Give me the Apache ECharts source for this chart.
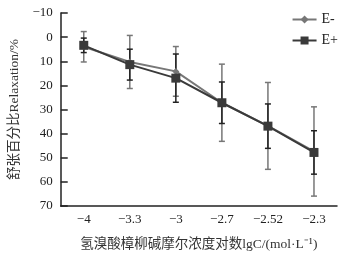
<!DOCTYPE html>
<html lang="zh">
<head>
<meta charset="UTF-8">
<title>Relaxation</title>
<script src="https://cdn.jsdelivr.net/npm/echarts@6/dist/echarts.min.js"></script>
<style>
  html, body { margin: 0; padding: 0; background: #fff; }
  #main { width: 349px; height: 258px; }
</style>
</head>
<body>
<div id="main"></div>
<script type="text/javascript">
// concentration categories (lgC)
var categories = ['\u22124', '\u22123.3', '\u22123', '\u22122.7', '\u22122.52', '\u22122.3'];
// relaxation %, mean and error
var eMinus = [4.0, 10.3, 14.2, 27.2, 36.8, 47.4];
var eMinusErr = [6.3, 11.0, 10.3, 16.0, 18.0, 18.5];
var ePlus = [3.4, 11.4, 17.0, 27.2, 36.9, 47.8];
var ePlusErr = [3.0, 6.4, 10.0, 8.6, 9.2, 9.0];

var font = "'Liberation Serif', 'Noto Sans CJK SC', serif";

function errData(vals, errs) {
  var out = [];
  for (var i = 0; i < vals.length; i++) {
    out.push([i, vals[i] - errs[i], vals[i] + errs[i]]);
  }
  return out;
}

function errRender(color) {
  return function (params, api) {
    var x = api.value(0);
    var top = api.coord([x, api.value(1)]);
    var bot = api.coord([x, api.value(2)]);
    var w = 3;
    var st = { stroke: color, lineWidth: 1.5 };
    return {
      type: 'group',
      children: [
        { type: 'line', shape: { x1: top[0], y1: top[1], x2: bot[0], y2: bot[1] }, style: st },
        { type: 'line', shape: { x1: top[0] - w, y1: top[1], x2: top[0] + w, y2: top[1] }, style: st },
        { type: 'line', shape: { x1: bot[0] - w, y1: bot[1], x2: bot[0] + w, y2: bot[1] }, style: st }
      ]
    };
  };
}

var chart = echarts.init(document.getElementById('main'));
chart.setOption({
  animation: false,
  textStyle: { fontFamily: font },
  grid: { left: 55, right: 12, top: 13, bottom: 52 },
  legend: {
    right: 6, top: 7, orient: 'vertical', itemGap: 6,
    itemWidth: 24, itemHeight: 10,
    textStyle: { fontFamily: font, fontSize: 14, color: '#222', lineHeight: 15 },
    data: ['E-', 'E+']
  },
  xAxis: {
    type: 'category',
    position: 'bottom',
    data: categories,
    boundaryGap: true,
    name: '氢溴酸樟柳碱摩尔浓度对数lgC/(mol·L\u207B\u00B9)',
    nameLocation: 'middle',
    nameGap: 32,
    nameTextStyle: { fontFamily: font, fontSize: 13.5, color: '#333' },
    axisLine: { onZero: false, lineStyle: { color: '#222', width: 1.5 } },
    axisTick: { inside: true, length: 7, lineStyle: { color: '#222', width: 1.5 } },
    axisLabel: { fontFamily: font, fontSize: 13, color: '#222', margin: 7 },
    splitLine: { show: false }
  },
  yAxis: {
    type: 'value',
    inverse: true,
    min: -10, max: 70, interval: 10,
    name: '舒张百分比Relaxation/%',
    nameLocation: 'middle',
    nameGap: 39,
    nameTextStyle: { fontFamily: font, fontSize: 13.5, color: '#333' },
    axisLine: { show: true, lineStyle: { color: '#222', width: 1.5 } },
    axisTick: { show: true, inside: true, length: 7, lineStyle: { color: '#222', width: 1.5 } },
    axisLabel: {
      fontFamily: font, fontSize: 13, color: '#222', margin: 8,
      formatter: function (v) { return String(v).replace('-', '\u2212'); }
    },
    splitLine: { show: false }
  },
  series: [
    {
      name: 'E-', type: 'line', data: eMinus, z: 3,
      symbol: 'diamond', symbolSize: 7,
      lineStyle: { color: '#777', width: 2 },
      itemStyle: { color: '#777' }
    },
    {
      name: 'E+', type: 'line', data: ePlus, z: 4,
      symbol: 'rect', symbolSize: 9,
      lineStyle: { color: '#3a3a3a', width: 2 },
      itemStyle: { color: '#3a3a3a' }
    },
    {
      type: 'custom', data: errData(eMinus, eMinusErr), z: 2,
      renderItem: errRender('#777'), silent: true
    },
    {
      type: 'custom', data: errData(ePlus, ePlusErr), z: 2,
      renderItem: errRender('#222'), silent: true
    }
  ]
});
</script>
</body>
</html>
